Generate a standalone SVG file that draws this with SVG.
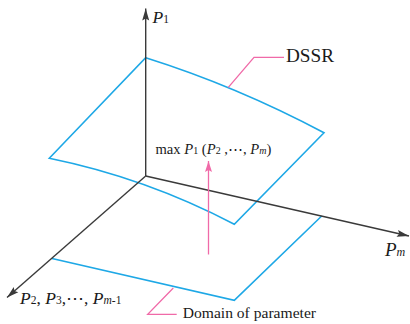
<svg xmlns="http://www.w3.org/2000/svg" width="410" height="324" viewBox="0 0 410 324">
<style>
.ax{stroke:#3a3a3a;stroke-width:1.4;fill:none}
.bl{stroke:#1ea8e6;stroke-width:1.6;fill:none;stroke-linejoin:miter}
.pk{stroke:#f06aa8;stroke-width:1.3;fill:none}
text{font-family:"Liberation Serif","Times New Roman",serif;fill:#1a1a1a}
.it{font-style:italic}
</style>
<defs>
<marker id="ah" markerUnits="userSpaceOnUse" markerWidth="14" markerHeight="10" viewBox="-13 -5 14 10" refX="0" refY="0" orient="auto">
<path d="M0,0 L-12,-3.5 L-10,0 L-12,3.5 Z" fill="#3a3a3a"/>
</marker>
<marker id="ahp" markerUnits="userSpaceOnUse" markerWidth="14" markerHeight="10" viewBox="-13 -5 14 10" refX="0" refY="0" orient="auto">
<path d="M0,0 L-11,-3.5 L-9,0 L-11,3.5 Z" fill="#f06aa8"/>
</marker>
</defs>
<g id="domain">
<path class="bl" d="M52,258.5 L234.3,300.3 L321.7,216"/>
</g>
<g id="dssr">
<path class="bl" d="M49.3,158.3 L145.7,57.7 Q236,86 324,132.7 L234.3,224.3 Q146,178 49.3,158.3 Z"/>
</g>
<g id="connectors">
<line class="ax" x1="145.7" y1="176" x2="145.7" y2="8.5" marker-end="url(#ah)"/>
<line class="ax" x1="145.7" y1="176" x2="409" y2="236" marker-end="url(#ah)"/>
<line class="ax" x1="145.7" y1="176" x2="7" y2="297.5" marker-end="url(#ah)"/>
<line class="pk" x1="208.5" y1="254.5" x2="208.5" y2="161" marker-end="url(#ahp)"/>
<polyline class="pk" points="228.3,87.3 254,57.3 284,57.3"/>
<polyline class="pk" points="173.3,288 147.7,314.3 176.7,314.3"/>
</g>
<g id="labels">
<text x="152.5" y="23.3" font-size="17.5"><tspan class="it">P</tspan><tspan font-size="11.5">1</tspan></text>
<text x="286" y="61.7" font-size="19.2">DSSR</text>
<text x="155.5" y="154" font-size="14.6"><tspan>max </tspan><tspan class="it">P</tspan><tspan font-size="10">1</tspan><tspan> (</tspan><tspan class="it">P</tspan><tspan font-size="10">2</tspan><tspan> ,⋯, </tspan><tspan class="it">P</tspan><tspan class="it" font-size="10">m</tspan><tspan>)</tspan></text>
<text x="385" y="256" font-size="19"><tspan class="it">P</tspan><tspan class="it" font-size="12">m</tspan></text>
<text x="20" y="303.5" font-size="17.5"><tspan class="it">P</tspan><tspan font-size="11.5">2</tspan><tspan>, </tspan><tspan class="it">P</tspan><tspan font-size="11.5">3</tspan><tspan>,⋯, </tspan><tspan class="it">P</tspan><tspan class="it" font-size="11.5">m</tspan><tspan font-size="11.5">-1</tspan></text>
<text x="182.7" y="317.7" font-size="15.6">Domain of parameter</text>
</g>
</svg>
